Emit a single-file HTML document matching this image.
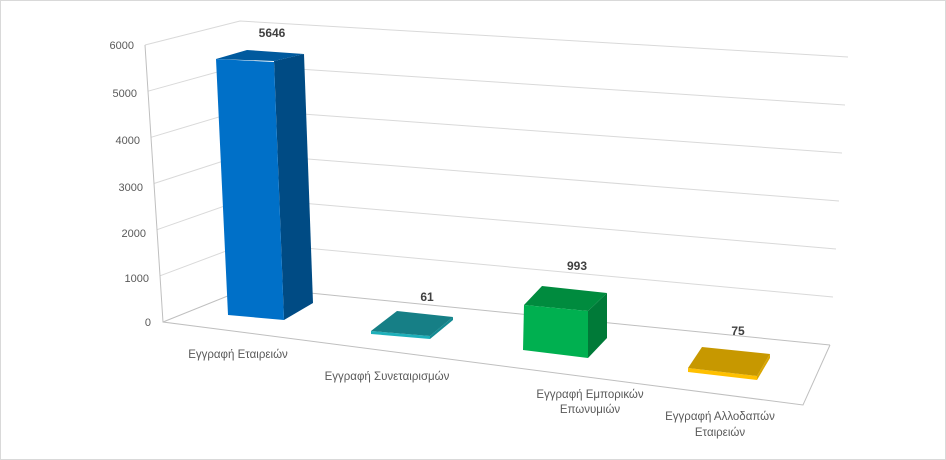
<!DOCTYPE html>
<html><head><meta charset="utf-8"><style>
html,body{margin:0;padding:0;background:#fff}
svg{display:block}
text{font-family:"Liberation Sans","DejaVu Sans",sans-serif}
</style></head><body>
<svg width="946" height="460" viewBox="0 0 946 460" xmlns="http://www.w3.org/2000/svg">
<rect x="0.5" y="0.5" width="945" height="459" fill="#fff" stroke="#d9d9d9"/>
<g fill="none" stroke="#d9d9d9" stroke-width="1">
<polyline points="145,45 240,21 848,57"/>
<polyline points="148,91.2 241.7,65.3 845,105"/>
<polyline points="151,137.3 243.3,109.7 842,153"/>
<polyline points="154,183.5 245,154 839,201"/>
<polyline points="157,229.7 246.7,198.3 836,249"/>
<polyline points="160,275.8 248.3,242.7 833,297"/>
</g>
<g fill="none" stroke="#bfbfbf" stroke-width="1">
<polyline points="163,322 250,287 830,345"/>
<polyline points="145,45 163,322 803,405 830,345"/>
</g>
<g font-size="11" fill="#595959" text-anchor="end">
<text x="134" y="49">6000</text>
<text x="137" y="97">5000</text>
<text x="140" y="144">4000</text>
<text x="143" y="191">3000</text>
<text x="146" y="237">2000</text>
<text x="149" y="282">1000</text>
<text x="151" y="326">0</text>
</g>
<!-- blue -->
<polygon points="274,61 304,54 313,303 284,320" fill="#004B84"/>
<polygon points="216,59 247,50 304,54 274,61" fill="#005A9E"/>
<polygon points="216,59 274,62 284,320 228,315" fill="#0070C8"/>
<!-- teal -->
<polygon points="371,331 430,336 430,339 371,334" fill="#1EB0BA"/>
<polygon points="430,336 453,317 453,320 430,339" fill="#138A92"/>
<polygon points="371,331 397,311 453,317 430,336" fill="#167F86"/>
<!-- green -->
<polygon points="588,311 607,293 607,338 588,358" fill="#007A38"/>
<polygon points="524,305 542,286 607,293 588,311" fill="#008B3E"/>
<polygon points="524,305 588,311 588,358 523,350" fill="#00B050"/>
<!-- gold -->
<polygon points="688,368 757,376 757,380 688,372" fill="#FFC000"/>
<polygon points="757,376 770,354 770,358 757,380" fill="#D9A600"/>
<polygon points="688,368 702,347 770,354 757,376" fill="#C79800"/>
<g font-size="12" font-weight="bold" fill="#404040" text-anchor="middle">
<text x="272" y="37">5646</text>
<text x="427" y="301">61</text>
<text x="577" y="270">993</text>
<text x="738" y="335">75</text>
</g>
<g font-size="11.5" fill="#595959" text-anchor="middle">
<text x="238" y="358">Εγγραφή Εταιρειών</text>
<text x="387" y="380">Εγγραφή Συνεταιρισμών</text>
<text x="590" y="398">Εγγραφή Εμπορικών</text>
<text x="590" y="413">Επωνυμιών</text>
<text x="720" y="420">Εγγραφή Αλλοδαπών</text>
<text x="720" y="436">Εταιρειών</text>
</g>
</svg>
</body></html>
